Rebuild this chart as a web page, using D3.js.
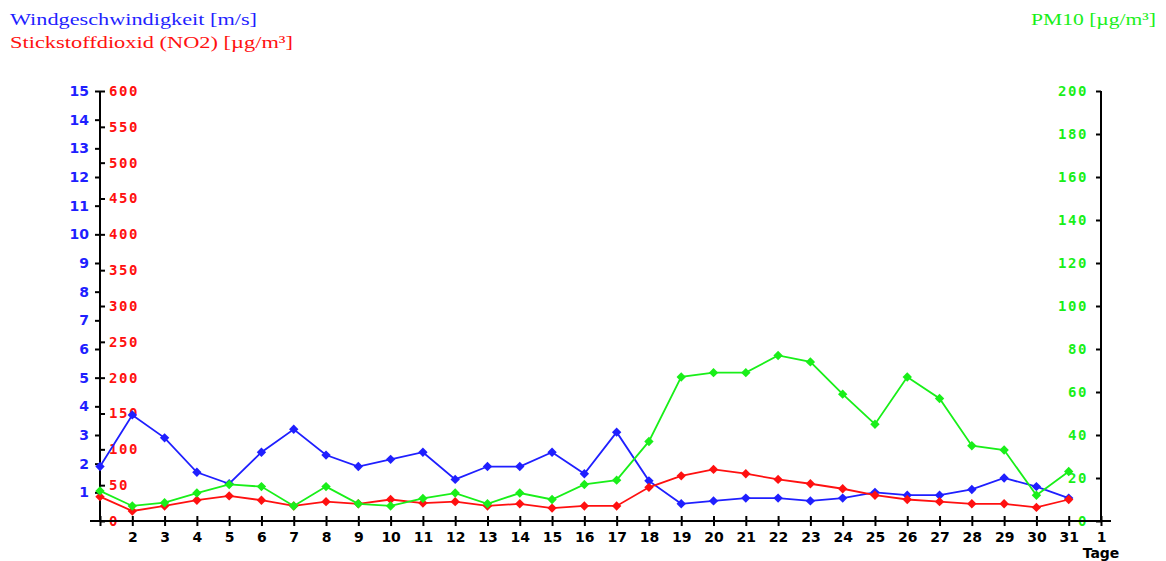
<!DOCTYPE html>
<html>
<head>
<meta charset="utf-8">
<script src="https://cdn.jsdelivr.net/npm/d3@7"></script>
<style>
  html, body { margin: 0; padding: 0; background: #fff; }
  svg { display: block; }
</style>
</head>
<body>
<svg id="chart" width="1166" height="561"></svg>
<script>
// Days of the month (32 = first day of next month)
const days = d3.range(1, 32);
const dayTicks = d3.range(1, 33);
const dayTickLabels = ["", "2", "3", "4", "5", "6", "7", "8", "9", "10", "11", "12", "13", "14", "15", "16",
  "17", "18", "19", "20", "21", "22", "23", "24", "25", "26", "27", "28", "29", "30", "31", "1"];

// Wind speed [m/s]
const wind = [1.9, 3.7, 2.9, 1.7, 1.3, 2.4, 3.2, 2.3, 1.9, 2.15, 2.4, 1.45, 1.9, 1.9, 2.4, 1.65,
  3.1, 1.4, 0.6, 0.7, 0.8, 0.8, 0.7, 0.8, 1.0, 0.9, 0.9, 1.1, 1.5, 1.2, 0.8];

// Nitrogen dioxide [µg/m³]
const no2 = [34, 14, 21, 29, 35, 29, 21, 27, 24, 30, 25, 27, 21, 24, 18, 21,
  21, 47, 63, 72, 66, 58, 52, 45, 36, 30, 27, 24, 24, 19, 30];

// PM10 [µg/m³]
const pm10 = [14, 7, 8.5, 13, 17, 16, 7, 16, 8, 7, 10.5, 13, 8, 13, 10, 17,
  19, 37, 67, 69, 69, 77, 74, 59, 45, 67, 57, 35, 33, 12, 23];

const windTicks = d3.range(1, 16);
const no2Ticks = d3.range(0, 601, 50);
const pmTicks = d3.range(0, 201, 20);

const svg = d3.select("#chart");

const plotLeft = 100, plotRight = 1101, plotTop = 91, plotBottom = 521;

const x = d3.scaleLinear().domain([1, 32]).range([plotLeft, plotRight]);
const yWind = d3.scaleLinear().domain([0, 15]).range([plotBottom, plotTop]);
const yNo2 = d3.scaleLinear().domain([0, 600]).range([plotBottom, plotTop]);
const yPm = d3.scaleLinear().domain([0, 200]).range([plotBottom, plotTop]);

const BLUE = "#1f1fff", RED = "#ff1010", GREEN = "#19ef19";

// Titles
const titleFont = "Liberation Serif, serif";
svg.append("text").attr("x", 10).attr("y", 25)
  .attr("fill", BLUE).attr("font-family", titleFont).attr("font-size", 17)
  .attr("textLength", 247).attr("lengthAdjust", "spacingAndGlyphs")
  .text("Windgeschwindigkeit [m/s]");
svg.append("text").attr("x", 10).attr("y", 48)
  .attr("fill", RED).attr("font-family", titleFont).attr("font-size", 17)
  .attr("textLength", 283).attr("lengthAdjust", "spacingAndGlyphs")
  .text("Stickstoffdioxid (NO2) [µg/m³]");
svg.append("text").attr("x", 1156).attr("y", 25).attr("text-anchor", "end")
  .attr("fill", GREEN).attr("font-family", titleFont).attr("font-size", 17)
  .attr("textLength", 125).attr("lengthAdjust", "spacingAndGlyphs")
  .text("PM10 [µg/m³]");

const tickFont = "DejaVu Sans, Verdana, sans-serif";
const monoFont = "DejaVu Sans Mono, monospace";

// Left axis: wind speed ticks outside, NO2 ticks inside
const gWind = svg.append("g").attr("transform", `translate(${plotLeft},0)`)
  .call(d3.axisLeft(yWind).tickValues(windTicks).tickSize(5).tickPadding(6));
gWind.select(".domain").remove();
gWind.selectAll("line").attr("stroke", "#000").attr("stroke-width", 2);
gWind.selectAll("text").attr("fill", BLUE).attr("font-family", tickFont)
  .attr("font-weight", "bold").attr("font-size", 14);

const gNo2 = svg.append("g").attr("transform", `translate(${plotLeft},0)`)
  .call(d3.axisRight(yNo2).tickValues(no2Ticks).tickSize(5).tickPadding(4));
gNo2.select(".domain").remove();
gNo2.selectAll("line").attr("stroke", "#000").attr("stroke-width", 2);
gNo2.selectAll("text").attr("fill", RED).attr("font-family", monoFont)
  .attr("font-weight", "bold").attr("font-size", 14).attr("letter-spacing", 1.6);

// Right axis: PM10
const gPm = svg.append("g").attr("transform", `translate(${plotRight},0)`)
  .call(d3.axisLeft(yPm).tickValues(pmTicks).tickSize(5).tickPadding(8));
gPm.select(".domain").remove();
gPm.selectAll("line").attr("stroke", "#000").attr("stroke-width", 2);
gPm.selectAll("text").attr("fill", GREEN).attr("font-family", monoFont)
  .attr("font-weight", "bold").attr("font-size", 14).attr("letter-spacing", 1.6);

// Bottom axis: days
const gX = svg.append("g").attr("transform", `translate(0,${plotBottom})`)
  .call(d3.axisBottom(x).tickValues(dayTicks).tickFormat((d, i) => dayTickLabels[i])
    .tickSize(5).tickPadding(6));
gX.select(".domain").remove();
gX.selectAll("line").attr("y1", -5).attr("y2", 5).attr("stroke", "#000").attr("stroke-width", 2);
gX.selectAll("text").attr("fill", "#000").attr("font-family", tickFont)
  .attr("font-weight", "bold").attr("font-size", 14);

// Axis lines
svg.append("line").attr("x1", plotLeft).attr("x2", plotLeft).attr("y1", plotTop).attr("y2", plotBottom + 1)
  .attr("stroke", "#000").attr("stroke-width", 2);
svg.append("line").attr("x1", plotRight).attr("x2", plotRight).attr("y1", plotTop).attr("y2", plotBottom + 1)
  .attr("stroke", "#000").attr("stroke-width", 2);
svg.append("line").attr("x1", plotLeft - 10).attr("x2", plotRight + 10).attr("y1", plotBottom).attr("y2", plotBottom)
  .attr("stroke", "#000").attr("stroke-width", 2);

svg.append("text").attr("x", x(32)).attr("y", 558).attr("text-anchor", "middle")
  .attr("font-family", tickFont).attr("font-weight", "bold").attr("font-size", 14)
  .attr("fill", "#000").text("Tage");

// Series
const series = [
  { values: wind, y: yWind, color: BLUE },
  { values: no2, y: yNo2, color: RED },
  { values: pm10, y: yPm, color: GREEN }
];

// Square rotated 45° gives an even-sided diamond marker
const diamond = d3.symbol().type(d3.symbolSquare).size(44);

series.forEach(s => {
  const line = d3.line().x((d, i) => x(days[i])).y(d => s.y(d));
  svg.append("path").datum(s.values)
    .attr("d", line).attr("fill", "none")
    .attr("stroke", s.color).attr("stroke-width", 1.8);
  svg.append("g").selectAll("path").data(s.values).join("path")
    .attr("d", diamond)
    .attr("transform", (d, i) => `translate(${x(days[i])},${s.y(d)}) rotate(45)`)
    .attr("fill", s.color);
});
</script>
</body>
</html>
